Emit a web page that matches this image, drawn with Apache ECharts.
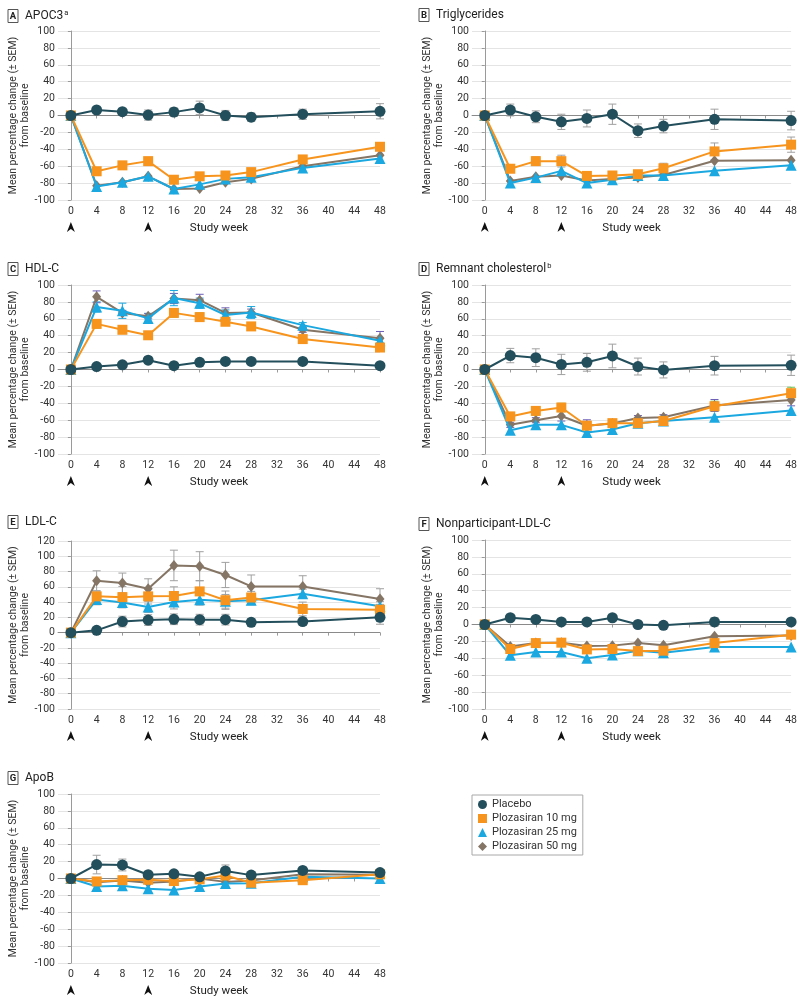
<!DOCTYPE html>
<html>
<head>
<meta charset="utf-8">
<script src="https://cdn.jsdelivr.net/npm/echarts@6/dist/echarts.min.js"></script>
<style>
html,body{margin:0;padding:0;background:#fff;}
#c{width:800px;height:999px;}
</style>
</head>
<body>
<div id="c"></div>
<script>
// ---------- data ----------
const weeks = [0, 4, 8, 12, 16, 20, 24, 28, 36, 48];
const weekTicks = [0, 4, 8, 12, 16, 20, 24, 28, 32, 36, 40, 44, 48];
const dosedWeeks = [0, 12];
const seriesNames = ['Placebo', 'Plozasiran 10 mg', 'Plozasiran 25 mg', 'Plozasiran 50 mg'];

// A APOC3
const placeboA = [0, 6.5, 4.5, 0.5, 4, 9, 0, -2, 1.5, 5];
const placeboErrA = [0, 3, 3, 6, 5, 8, 6, 5, 6, 9];
const mg10A = [0, -66, -59, -54, -76, -72, -71, -67, -52, -37];
const mg25A = [0, -84, -79, -72, -87, -81.5, -75, -73, -62, -51];
const mg50A = [0, -83, -79, -72, -87, -86.5, -79, -75, -60, -47];

// B Triglycerides
const placeboB = [0, 6.5, -1.5, -7.5, -3.5, 1.5, -18, -12.5, -4.5, -6];
const placeboErrB = [0, 7, 7, 9, 10, 12, 8, 8, 12, 11];
const mg10B = [0, -63, -54, -54, -71.5, -71, -69.5, -62.5, -42.5, -34.5];
const mg10ErrB = [0, 3, 5, 7, 3, 3, 3, 6, 10, 9];
const mg25B = [0, -80, -73.5, -65.5, -80, -76, -71, -71, -65.5, -59];
const mg50B = [0, -77.5, -72.5, -71, -77, -75, -73.5, -70.5, -53.5, -53];

// C HDL-C
const placeboC = [0, 3.5, 5.5, 11, 4.5, 8.5, 9.5, 9.5, 9.5, 4.5];
const mg10C = [0, 54, 47, 40.5, 67, 62, 56.5, 51, 36, 26];
const mg10ErrC = [0, 5, 3, 4, 5, 5, 4, 3, 3, 3];
const mg25C = [0, 74, 69.5, 60.5, 84.5, 78.5, 64.5, 67.5, 52.5, 34];
const mg25ErrC = [0, 6, 9, 6, 9, 6, 6, 7, 3, 3];
const mg50C = [0, 86, 67, 63, 84, 82, 67, 67.5, 47, 37];
const mg50ErrC = [0, 7, 3, 3, 6, 7, 6, 4, 3, 8];

// D Remnant cholesterol
const placeboD = [0, 16.5, 14, 6, 8.5, 16, 3.5, -0.5, 4.5, 5];
const placeboErrD = [0, 8.5, 10.5, 12, 10.5, 14, 10, 9.5, 11, 12];
const mg10D = [0, -55.5, -49, -45, -66.5, -63.5, -63.5, -61, -43.5, -28];
const mg10ErrD = [0, 3, 5, 5, 3, 3, 3, 3, 6, 7];
const mg25D = [0, -72, -65.5, -65.5, -74.5, -71, -63.5, -61, -56.5, -48.5];
const mg50D = [0, -65.5, -60, -55, -66.5, -64, -57.5, -56.5, -42.5, -36];
const mg50ErrD = [0, 3, 3, 6, 7, 3, 3, 3, 7, 7];

// E LDL-C
const placeboE = [0, 3, 14.5, 16.5, 17.5, 17, 17, 13.5, 14.5, 20];
const placeboErrE = [0, 3, 7, 7, 7, 7, 7, 5, 5, 9];
const mg10E = [0, 47.5, 46.5, 47.5, 48, 54, 42.5, 46, 31, 30];
const mg10ErrE = [0, 6, 14, 10, 12, 14, 12, 8, 9, 7];
const mg25E = [0, 43.5, 39.5, 33.5, 40, 43, 41, 42.5, 51, 34.5];
const mg25ErrE = [0, 7, 6, 7, 9, 7, 9, 6, 6, 6];
const mg50E = [0, 68, 65, 57.5, 88, 87, 75.5, 60.5, 60.5, 44];
const mg50ErrE = [0, 13, 13, 13, 20, 19, 16.5, 15, 14, 13.5];

// F Nonparticipant-LDL-C
const placeboF = [0, 8, 6, 3, 3, 8, 0, -1, 3, 3];
const placeboErrF = [0, 2, 2, 2, 2, 2, 2, 2, 5, 4];
const mg10F = [0, -29, -22, -21.5, -29.5, -29, -31.5, -31, -22, -12];
const mg25F = [0, -36.5, -32.5, -32.5, -40, -36, -31, -33.5, -26.5, -26.5];
const mg50F = [0, -26, -22, -21.5, -25.5, -25, -22, -24.5, -14, -13];

// G ApoB
const placeboG = [0, 16.5, 16, 4.5, 5.5, 2, 9, 4, 9.5, 7];
const placeboErrG = [0, 11, 7, 2, 2, 2, 7, 2, 2, 2];
const mg10G = [0, -3.5, -2, -1.5, -3, -1, 3.5, -5, -2, 5];
const mg25G = [0, -9.5, -8.5, -12, -13.5, -9.5, -6, -5.5, 2, 0];
const mg50G = [0, -4.5, -2.5, -5, -3.5, 0, -4, -2.5, 5, 4.5];

// ---------- styling ----------
const COLORS = ['#234e5b', '#f7941d', '#1ba8e0', '#857565'];
const SYMBOLS = ['circle', 'rect', 'triangle', 'diamond'];
const SIZES = [11, 10, 11, [9, 11]];
const GRAY = '#a0a0a0';
const GREEN = '#6cbf4a';
const PURPLE = '#6d5fb8';
const FONT = 'Roboto';

const panels = [
  {letter:'A', title:'APOC3', sup:'a', grid:{left:58, top:31, width:322, height:169}, ymax:100,
   vals:[placeboA, mg10A, mg25A, mg50A], errs:[placeboErrA, null, null, null], errColors:[GRAY, GRAY, GRAY, GRAY], tl:3, tt:4},
  {letter:'B', title:'Triglycerides', sup:'', grid:{left:472, top:31, width:321, height:169}, ymax:100,
   vals:[placeboB, mg10B, mg25B, mg50B], errs:[placeboErrB, mg10ErrB, null, null], errColors:[GRAY, GRAY, GRAY, GRAY], tl:414, tt:3},
  {letter:'C', title:'HDL-C', sup:'', grid:{left:58, top:285, width:322, height:169}, ymax:100,
   vals:[placeboC, mg10C, mg25C, mg50C], errs:[null, mg10ErrC, mg25ErrC, mg50ErrC], errColors:[GRAY, GREEN, '#1ba8e0', PURPLE], tl:3, tt:257},
  {letter:'D', title:'Remnant cholesterol', sup:'b', grid:{left:472, top:285, width:321, height:169}, ymax:100,
   vals:[placeboD, mg10D, mg25D, mg50D], errs:[placeboErrD, mg10ErrD, null, mg50ErrD], errColors:[GRAY, GREEN, GRAY, PURPLE], tl:414, tt:257},
  {letter:'E', title:'LDL-C', sup:'', grid:{left:58, top:541, width:322, height:168}, ymax:120,
   vals:[placeboE, mg10E, mg25E, mg50E], errs:[placeboErrE, mg10ErrE, mg25ErrE, mg50ErrE], errColors:[GRAY, GRAY, GRAY, GRAY], tl:3, tt:510},
  {letter:'F', title:'Nonparticipant-LDL-C', sup:'', grid:{left:472, top:540, width:321, height:169}, ymax:100,
   vals:[placeboF, mg10F, mg25F, mg50F], errs:[placeboErrF, null, null, null], errColors:[GRAY, GRAY, GRAY, GRAY], tl:414, tt:512},
  {letter:'G', title:'ApoB', sup:'', grid:{left:58, top:794, width:322, height:169}, ymax:100,
   vals:[placeboG, mg10G, mg25G, mg50G], errs:[placeboErrG, null, null, null], errColors:[GRAY, GRAY, GRAY, GRAY], tl:3, tt:766}
];

const arrowSvg = 'data:image/svg+xml;utf8,' + encodeURIComponent(
  '<svg xmlns="http://www.w3.org/2000/svg" width="16" height="20" viewBox="0 0 16 20"><path d="M8 0 L16 20 L8 14 L0 20 Z" fill="#111"/></svg>');

function makeErrRender(color) {
  return function (params, api) {
    const x = api.value(0), lo = api.value(1), hi = api.value(2);
    const p1 = api.coord([x, lo]), p2 = api.coord([x, hi]);
    const w = 4;
    const style = {stroke: color, lineWidth: 1};
    return {type: 'group', children: [
      {type: 'line', shape: {x1: p1[0], y1: p1[1], x2: p2[0], y2: p2[1]}, style: style},
      {type: 'line', shape: {x1: p1[0] - w, y1: p1[1], x2: p1[0] + w, y2: p1[1]}, style: style},
      {type: 'line', shape: {x1: p2[0] - w, y1: p2[1], x2: p2[0] + w, y2: p2[1]}, style: style}
    ]};
  };
}

const option = {
  animation: false,
  textStyle: {fontFamily: FONT},
  title: [], grid: [], xAxis: [], yAxis: [], series: [],
  legend: {
    left: 472, top: 795, orient: 'vertical',
    borderColor: '#a8a8a8', borderWidth: 1, padding: [4, 6, 3, 6],
    itemGap: 3, itemWidth: 9, itemHeight: 9,
    textStyle: {fontFamily: FONT, fontSize: 11, color: '#333'},
    data: seriesNames.map((n, i) => ({name: n, icon: SYMBOLS[i]}))
  }
};

panels.forEach((p, k) => {
  option.title.push({
    left: p.tl, top: p.tt,
    text: '{box|' + p.letter + '}{t|' + p.title + '}' + (p.sup ? '{sup|' + p.sup + '}' : ''),
    textStyle: {
      fontFamily: FONT, fontWeight: 'normal',
      rich: {
        box: {fontSize: 9.5, fontWeight: 'bold', color: '#222', borderColor: '#555', borderWidth: 1,
              width: 8, align: 'center', padding: [2, 1, 1, 1], lineHeight: 11},
        t: {fontSize: 12, fontWeight: 'normal', color: '#222', padding: [0, 0, 0, 7], lineHeight: 14},
        sup: {fontSize: 7.5, fontWeight: 'normal', color: '#222', verticalAlign: 'top', lineHeight: 14, padding: [0, 0, 0, 1]}
      }
    }
  });
  option.grid.push(Object.assign({containLabel: false}, p.grid));
  option.xAxis.push({
    type: 'value', gridIndex: k, min: -2, max: 48,
    name: 'Study week', nameLocation: 'middle', nameGap: 22, nameMoveOverlap: false,
    nameTextStyle: {fontFamily: FONT, fontSize: 11.5, color: '#222', verticalAlign: 'top'},
    axisLine: {show: true, lineStyle: {color: '#9a9a9a', width: 1}},
    axisTick: {show: true, length: 3, customValues: weekTicks, lineStyle: {color: '#9a9a9a'}},
    splitLine: {show: false},
    axisLabel: {
      customValues: weekTicks, margin: 5, color: '#333', fontSize: 10.5, fontFamily: FONT,
      formatter: function (v) {
        return dosedWeeks.indexOf(v) >= 0 ? '{v|' + v + '}\n{sp|}\n{a|}' : '{v|' + v + '}';
      },
      rich: {
        v: {fontSize: 10.5, lineHeight: 12, color: '#333', fontFamily: FONT},
        sp: {height: 5, lineHeight: 5},
        a: {width: 8, height: 10, lineHeight: 10, backgroundColor: {image: arrowSvg}}
      }
    }
  });
  option.yAxis.push({
    type: 'value', gridIndex: k, min: -100, max: p.ymax, interval: 20,
    name: 'Mean percentage change (± SEM)\nfrom baseline', nameLocation: 'middle', nameGap: 27, nameMoveOverlap: false,
    nameTextStyle: {fontFamily: FONT, fontSize: 10.5, color: '#333', lineHeight: 12},
    axisLine: {show: true, lineStyle: {color: '#9a9a9a', width: 1}},
    axisTick: {show: true, length: 3, lineStyle: {color: '#9a9a9a'}},
    splitLine: {show: true, lineStyle: {color: '#e4e4e4', width: 1}},
    axisLabel: {color: '#333', fontSize: 10.5, margin: 3, fontFamily: FONT}
  });
  // error bars
  p.errs.forEach((e, i) => {
    if (!e) return;
    const d = [];
    weeks.forEach((w, j) => { if (e[j] > 0) d.push([w, p.vals[i][j] - e[j], p.vals[i][j] + e[j]]); });
    option.series.push({
      type: 'custom', name: 'err' + k + '_' + i, xAxisIndex: k, yAxisIndex: k,
      renderItem: makeErrRender(p.errColors[i]), data: d, encode: {x: 0, y: [1, 2]}, z: 1, silent: true
    });
  });
  // lines, drawn 50mg first, placebo last (on top)
  [3, 2, 1, 0].forEach(i => {
    const s = {
      type: 'line', name: seriesNames[i], xAxisIndex: k, yAxisIndex: k,
      data: weeks.map((w, j) => [w, p.vals[i][j]]),
      symbol: SYMBOLS[i], symbolSize: SIZES[i], showAllSymbol: true, clip: false,
      itemStyle: {color: COLORS[i]}, lineStyle: {color: COLORS[i], width: 2},
      z: 3 + (3 - i)
    };
    if (i === 0) {
      s.markLine = {silent: true, symbol: 'none', label: {show: false}, z: 1,
        lineStyle: {color: '#8a8a8a', width: 1, type: 'solid'}, data: [{yAxis: 0}], animation: false};
    }
    option.series.push(s);
  });
});

const chart = echarts.init(document.getElementById('c'), null, {renderer: 'canvas'});
chart.setOption(option);
</script>
</body>
</html>
